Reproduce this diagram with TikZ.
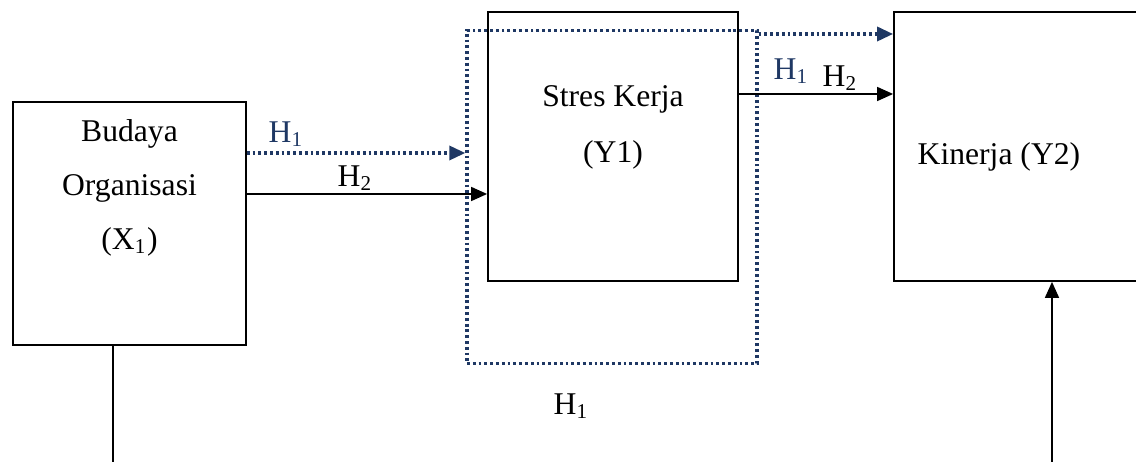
\documentclass[tikz,border=0pt]{standalone}
\usepackage{fontspec}
\setmainfont{Liberation Serif}
\usetikzlibrary{positioning,calc,arrows.meta}
\definecolor{hblue}{RGB}{31,56,100}

\tikzset{
  kotak/.style={draw,line width=0.5pt,inner sep=0pt},
  titik/.style={hblue,line width=0.95pt,dash pattern=on 0.8pt off 0.85pt},
  teks/.style={inner sep=0pt,anchor=base,font=\fontsize{9}{10.5}\selectfont},
  panah/.style={-{Triangle[length=0.16cm,width=0.14cm]},line width=0.45pt},
}

\begin{document}
\begin{tikzpicture}
\useasboundingbox (0,0) rectangle (11.36,4.62);

\coordinate (p0) at ( 1.295,2.385);
\coordinate (p1) at ( 6.13, 3.155);
\coordinate (p2) at (10.24, 3.155);
\coordinate (p3) at ( 6.12, 2.65);

\node[kotak,minimum width=2.33cm,minimum height=2.43cm] (x1) at (p0) {};
\node[kotak,minimum width=2.50cm,minimum height=2.69cm] (y1) at (p1) {};
\node[kotak,minimum width=2.60cm,minimum height=2.69cm] (y2) at (p2) {};
\node[titik,draw,inner sep=0pt,minimum width=2.90cm,minimum height=3.33cm] (med) at (p3) {};

\node[teks] (t1) at (1.295,3.20) {Budaya};
\node[teks] (t2) at (1.295,2.66) {Organisasi};
\node[teks] (t3) at (1.295,2.12) {(X\textsubscript{1})};
\node[teks] (t4) at (6.13,3.55) {Stres Kerja};
\node[teks] (t5) at (6.13,2.99) {(Y1)};
\node[teks,anchor=base west] (t6) at (9.17,2.97) {Kinerja (Y2)};

\node[teks,anchor=base west,hblue] (h1a) at (2.68,3.19) {H\textsubscript{1}};
\node[teks,anchor=base west] (h2a) at (3.37,2.75) {H\textsubscript{2}};
\node[teks,anchor=base west,hblue] (h1b) at (7.73,3.82) {H\textsubscript{1}};
\node[teks,anchor=base west] (h2b) at (8.22,3.75) {H\textsubscript{2}};
\node[teks,anchor=base west] (h1c) at (5.53,0.47) {H\textsubscript{1}};

\coordinate (a1) at (0,3.09);
\coordinate (a2) at (0,2.68);
\coordinate (a3) at (0,4.28);
\coordinate (a4) at (0,3.68);
\coordinate (xb) at (1.13,-0.05);
\coordinate (yb) at (10.52,-0.05);

\draw[panah,titik] (x1.east |- a1) -- (med.west |- a1);
\draw[panah] (x1.east |- a2) -- (y1.west |- a2);
\draw[panah,titik] (med.east |- a3) -- (y2.west |- a3);
\draw[panah] (y1.east |- a4) -- (y2.west |- a4);
\draw[line width=0.45pt] (xb |- x1.south) -- (xb);
\draw[panah] (yb) -- (yb |- y2.south);

\end{tikzpicture}
\end{document}
